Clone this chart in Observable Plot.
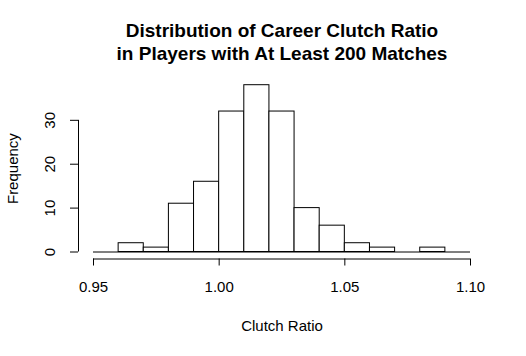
<!DOCTYPE html>
<html>
<head>
<meta charset="utf-8">
<script src="https://cdn.jsdelivr.net/npm/d3@7"></script>
<script src="https://cdn.jsdelivr.net/npm/@observablehq/plot@0.6"></script>
<style>
  html, body { margin: 0; padding: 0; background: #fff; }
  #chart { width: 526px; height: 356px; }
</style>
</head>
<body>
<div id="chart"></div>
<script>
// Histogram data
const binStarts = [0.95, 0.96, 0.97, 0.98, 0.99, 1.00, 1.01, 1.02, 1.03, 1.04, 1.05, 1.06, 1.07, 1.08, 1.09];
const binEnds   = [0.96, 0.97, 0.98, 0.99, 1.00, 1.01, 1.02, 1.03, 1.04, 1.05, 1.06, 1.07, 1.08, 1.09, 1.10];
const counts    = [0, 2, 1, 11, 16, 32, 38, 32, 10, 6, 2, 1, 0, 1, 0];
const xTicks = [0.95, 1.00, 1.05, 1.10];
const yTicks = [0, 10, 20, 30];
const titleLines = ["Distribution of Career Clutch Ratio", "in Players with At Least 200 Matches"];
const xLabel = "Clutch Ratio";
const yLabel = "Frequency";

const bins = binStarts.map((s, i) => ({x1: s, x2: binEnds[i], count: counts[i]}));
const xMin = d3.min(binStarts), xMax = d3.max(binEnds);

const font = "'Liberation Sans', Arial, sans-serif";

const chart = Plot.plot({
  width: 526,
  height: 356,
  marginLeft: 93,
  marginRight: 56,
  marginTop: 84.7,
  marginBottom: 104.5,
  style: {fontFamily: font, background: "#fff", color: "#000"},
  x: {domain: [xMin, xMax], axis: null},
  y: {domain: [0, d3.max(counts)], axis: null},
  marks: [
    Plot.rectY(bins.filter(d => d.count > 0), {x1: "x1", x2: "x2", y: "count", fill: "#fff", stroke: "#000", strokeWidth: 1, inset: 0}),
    Plot.ruleY([0], {x1: xMin, x2: xMax, stroke: "#000", strokeWidth: 1}),
    // x axis (offset like base R)
    Plot.ruleY([0], {x1: d3.min(xTicks), x2: d3.max(xTicks), dy: 7, stroke: "#000", strokeWidth: 1}),
    Plot.axisX(xTicks, {tickSize: 7, dy: 7, tickFormat: () => "", label: null, stroke: "#000"}),
    Plot.text(xTicks, {x: d => d, frameAnchor: "bottom", textAnchor: "middle", lineAnchor: "middle", dy: 35.5, text: d => d3.format(".2f")(d), fontSize: 15, fill: "#000"}),
    Plot.text([xLabel], {frameAnchor: "bottom", textAnchor: "middle", lineAnchor: "middle", dy: 74.5, text: d => d, fontSize: 15, fill: "#000"}),
    // y axis
    Plot.ruleX([xMin], {x: d => d, y1: d3.min(yTicks), y2: d3.max(yTicks), dx: -15, stroke: "#000", strokeWidth: 1}),
    Plot.axisY(yTicks, {tickSize: 8, dx: -15, tickFormat: () => "", label: null, stroke: "#000"}),
    Plot.text(yTicks, {y: d => d, frameAnchor: "left", textAnchor: "middle", rotate: -90, lineAnchor: "middle", dx: -43, text: d => String(d), fontSize: 15, fill: "#000"}),
    Plot.text([yLabel], {frameAnchor: "left", textAnchor: "middle", rotate: -90, lineAnchor: "middle", dx: -80, text: d => d, fontSize: 15, fill: "#000"}),
    // title
    Plot.text([titleLines[0]], {frameAnchor: "top", textAnchor: "middle", lineAnchor: "middle", dy: -54, text: d => d, fontSize: 19, fontWeight: "bold", fill: "#000"}),
    Plot.text([titleLines[1]], {frameAnchor: "top", textAnchor: "middle", lineAnchor: "middle", dy: -31.5, text: d => d, fontSize: 19, fontWeight: "bold", fill: "#000"})
  ]
});
document.getElementById("chart").appendChild(chart);
</script>
</body>
</html>
